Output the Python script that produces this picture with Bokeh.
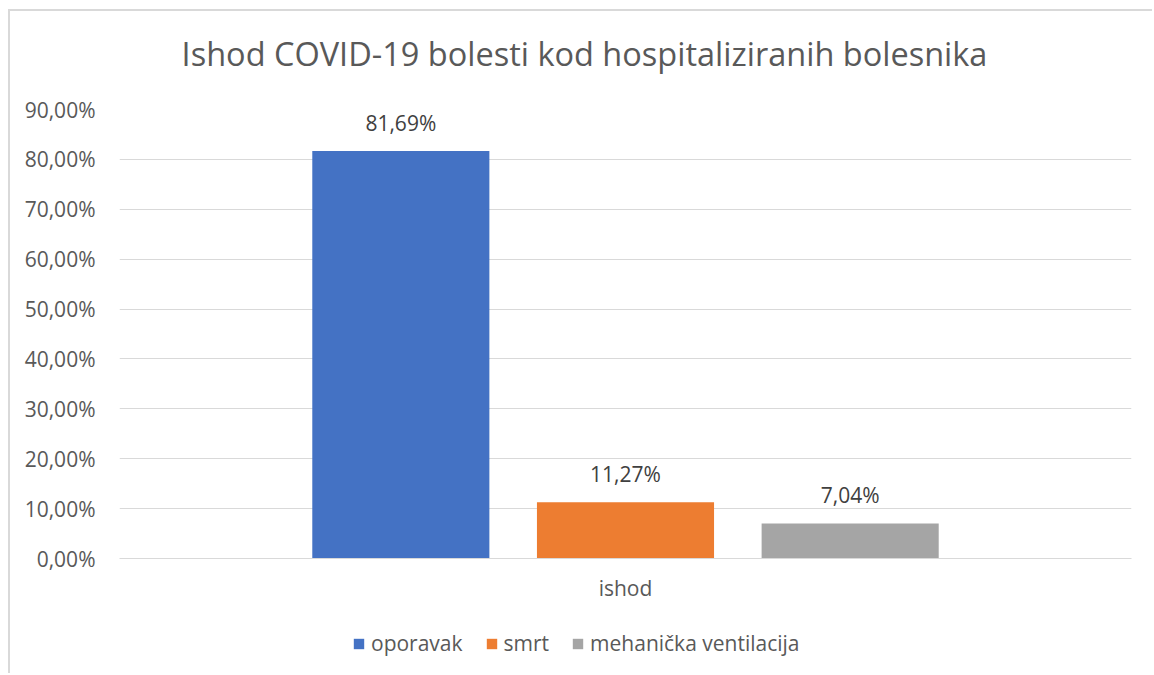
from bokeh.plotting import figure
from bokeh.layouts import column
from bokeh.models import FactorRange, Legend, LegendItem, ColumnDataSource, FixedTicker, Label
from bokeh.transform import dodge
from bokeh.core.properties import value
from bokeh.embed import file_html
from bokeh.resources import INLINE

# ---- data ----
title_text = "Ishod COVID-19 bolesti kod hospitaliziranih bolesnika"
category = ["ishod"]
series_names = ["oporavak", "smrt", "mehanička ventilacija"]
series_values = [81.69, 11.27, 7.04]
series_labels = ["81,69%", "11,27%", "7,04%"]
series_colors = ["#4472C4", "#ED7D31", "#A5A5A5"]
y_ticks = [0, 10, 20, 30, 40, 50, 60, 70, 80, 90]
y_tick_labels = ["0,00%", "10,00%", "20,00%", "30,00%", "40,00%",
                 "50,00%", "60,00%", "70,00%", "80,00%", "90,00%"]

FONT = "Open Sans"
TXT = "#595959"
GRID = "#d9d9d9"


def strip(h):
    f = figure(width=1142, height=h, x_range=(0, 1), y_range=(0, 1),
               x_axis_type=None, y_axis_type=None, output_backend="svg",
               toolbar_location=None, min_border=0)
    f.outline_line_color = None
    f.background_fill_color = "white"
    f.border_fill_color = "white"
    return f


# title strip
top = strip(84)
top.add_layout(Label(x=465, y=42, x_units="screen", y_units="screen", text=title_text,
                     text_align="center", text_baseline="middle", text_font=FONT,
                     text_font_size="32.5px", text_color=TXT))

# main chart
p = figure(width=1142, height=520, x_range=FactorRange(*category), y_range=(0, 90),
           output_backend="svg", toolbar_location=None,
           min_border_left=109, min_border_right=21, min_border_top=14, min_border_bottom=57)
p.outline_line_color = None
p.background_fill_color = "white"
p.border_fill_color = "white"

offsets = [-0.222, 0.0, 0.222]
bar_w = 0.175
for name, val, lab, col, off in zip(series_names, series_values, series_labels, series_colors, offsets):
    src = ColumnDataSource(dict(x=category, top=[val], lab=[lab]))
    p.vbar(x=dodge("x", off, range=p.x_range), top="top", width=bar_w, source=src,
           fill_color=col, line_color=None)
    p.text(x=dodge("x", off, range=p.x_range), y="top", text="lab", source=src,
           text_align="center", text_baseline="middle", y_offset=-28,
           text_font=value(FONT), text_font_size="21px", text_color="#404040")

p.yaxis.ticker = FixedTicker(ticks=y_ticks)
p.yaxis.major_label_overrides = {t: l for t, l in zip(y_ticks, y_tick_labels)}
p.yaxis.axis_line_color = None
p.yaxis.major_tick_line_color = None
p.yaxis.minor_tick_line_color = None
p.yaxis.major_label_text_font = FONT
p.yaxis.major_label_text_font_size = "21px"
p.yaxis.major_label_text_color = TXT
p.yaxis.major_label_standoff = 18

p.xaxis.axis_line_color = GRID
p.xaxis.major_tick_line_color = None
p.xaxis.minor_tick_line_color = None
p.xaxis.major_label_text_font = FONT
p.xaxis.major_label_text_font_size = "21px"
p.xaxis.major_label_text_color = TXT
p.xaxis.major_label_standoff = 9

p.xgrid.grid_line_color = None
p.ygrid.grid_line_color = GRID
p.ygrid.ticker = FixedTicker(ticks=y_ticks)

# legend strip (legend keys only; their glyphs have zero height)
leg = strip(58)
items = []
for name, col in zip(series_names, series_colors):
    r = leg.vbar(x=[-5], top=[0], bottom=[0], width=0.01, fill_color=col, line_color=None)
    items.append(LegendItem(label=name, renderers=[r]))
legend = Legend(items=items, orientation="horizontal", location=(233, 16),
                label_text_font=FONT, label_text_font_size="21px", label_text_color=TXT,
                glyph_width=13, glyph_height=13, label_standoff=6, spacing=22,
                border_line_color=None, background_fill_alpha=0, padding=0, margin=0)
leg.add_layout(legend)

layout = column(top, p, leg, spacing=0, margin=(9, 0, 0, 8),
                styles={"border-left": "2px solid #d9d9d9", "border-top": "2px solid #d9d9d9"})

open("out.html", "w").write(file_html(layout, INLINE))
